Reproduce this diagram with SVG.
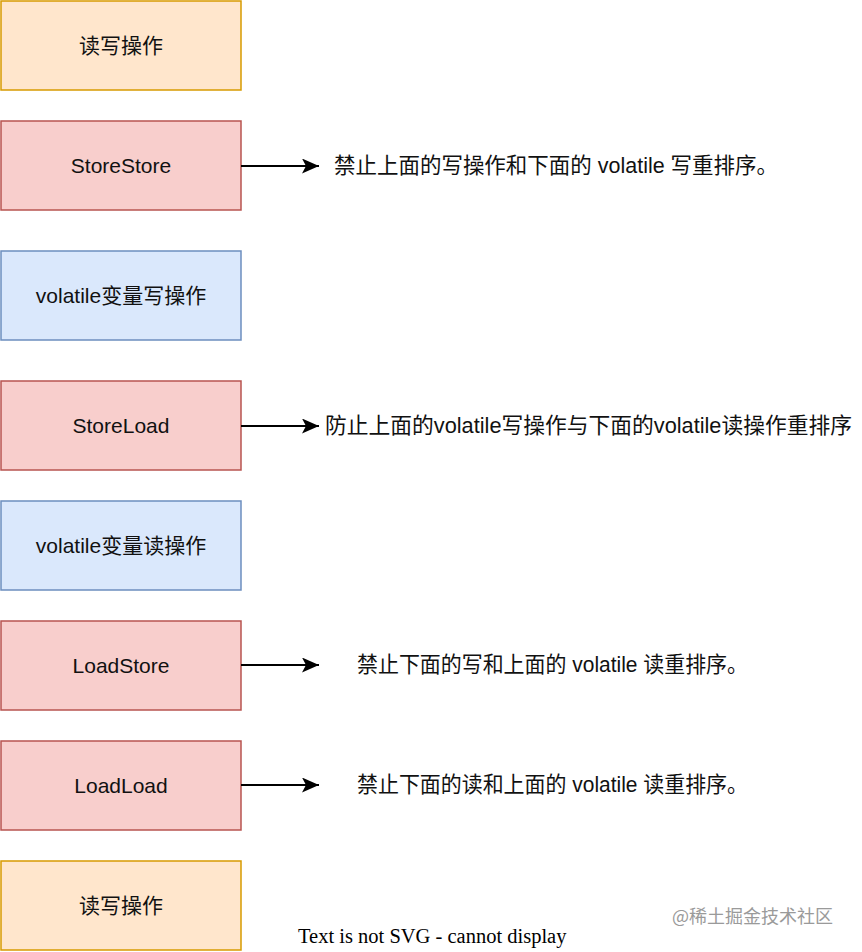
<svg xmlns="http://www.w3.org/2000/svg" width="862" height="952" viewBox="0 0 862 952">
<style>
.box{stroke-width:1.5}
.o{fill:#ffe6cc;stroke:#d79b00}
.r{fill:#f8cecc;stroke:#b85450}
.b{fill:#dae8fc;stroke:#6c8ebf}
.t{font-family:"Liberation Sans","Noto Sans CJK SC",sans-serif;font-size:21px;fill:#111;text-anchor:middle;dominant-baseline:central}
.d{font-family:"Liberation Sans","Noto Sans CJK SC",sans-serif;font-size:21.5px;fill:#111;dominant-baseline:central}
.c{stroke:#000;stroke-width:1.8;fill:none}
</style>
<defs>
<marker id="ah" viewBox="0 0 17 15" refX="17" refY="7.5" markerWidth="17" markerHeight="15" markerUnits="userSpaceOnUse" orient="auto">
<path d="M0,0 L17,7.5 L0,15 L4,7.5 Z" fill="#000"/>
</marker>
</defs>
<rect width="862" height="952" fill="#fff"/>
<g id="n1"><rect class="box o" x="1" y="1" width="240" height="89"/><text class="t" x="121" y="45.5">读写操作</text></g>
<g id="n2"><rect class="box r" x="1" y="121" width="240" height="89"/><text class="t" x="121" y="165.5">StoreStore</text></g>
<g id="n3"><rect class="box b" x="1" y="251" width="240" height="89"/><text class="t" x="121" y="295.5">volatile变量写操作</text></g>
<g id="n4"><rect class="box r" x="1" y="381" width="240" height="89"/><text class="t" x="121" y="425.5">StoreLoad</text></g>
<g id="n5"><rect class="box b" x="1" y="501" width="240" height="89"/><text class="t" x="121" y="545.5">volatile变量读操作</text></g>
<g id="n6"><rect class="box r" x="1" y="621" width="240" height="89"/><text class="t" x="121" y="665.5">LoadStore</text></g>
<g id="n7"><rect class="box r" x="1" y="741" width="240" height="89"/><text class="t" x="121" y="785.5">LoadLoad</text></g>
<g id="n8"><rect class="box o" x="1" y="861" width="240" height="89"/><text class="t" x="121" y="905.5">读写操作</text></g>
<g id="connectors">
<line class="c" x1="241" y1="166" x2="319" y2="166" marker-end="url(#ah)"/>
<line class="c" x1="241" y1="426" x2="319" y2="426" marker-end="url(#ah)"/>
<line class="c" x1="241" y1="665" x2="319" y2="665" marker-end="url(#ah)"/>
<line class="c" x1="241" y1="785" x2="319" y2="785" marker-end="url(#ah)"/>
</g>
<g id="labels">
<text class="d" x="334" y="166" textLength="444" lengthAdjust="spacingAndGlyphs">禁止上面的写操作和下面的 volatile 写重排序。</text>
<text class="d" x="325" y="426" textLength="527" lengthAdjust="spacingAndGlyphs">防止上面的volatile写操作与下面的volatile读操作重排序</text>
<text class="d" x="357" y="665" textLength="391" lengthAdjust="spacingAndGlyphs">禁止下面的写和上面的 volatile 读重排序。</text>
<text class="d" x="357" y="785" textLength="391" lengthAdjust="spacingAndGlyphs">禁止下面的读和上面的 volatile 读重排序。</text>
</g>
<text x="672" y="915" style="font-family:'Noto Sans CJK SC',sans-serif;font-size:18px;fill:#9a9a9a;dominant-baseline:central">@稀土掘金技术社区</text>
<text x="298" y="943" style="font-family:'Liberation Serif',serif;font-size:20.5px;fill:#000">Text is not SVG - cannot display</text>
</svg>
